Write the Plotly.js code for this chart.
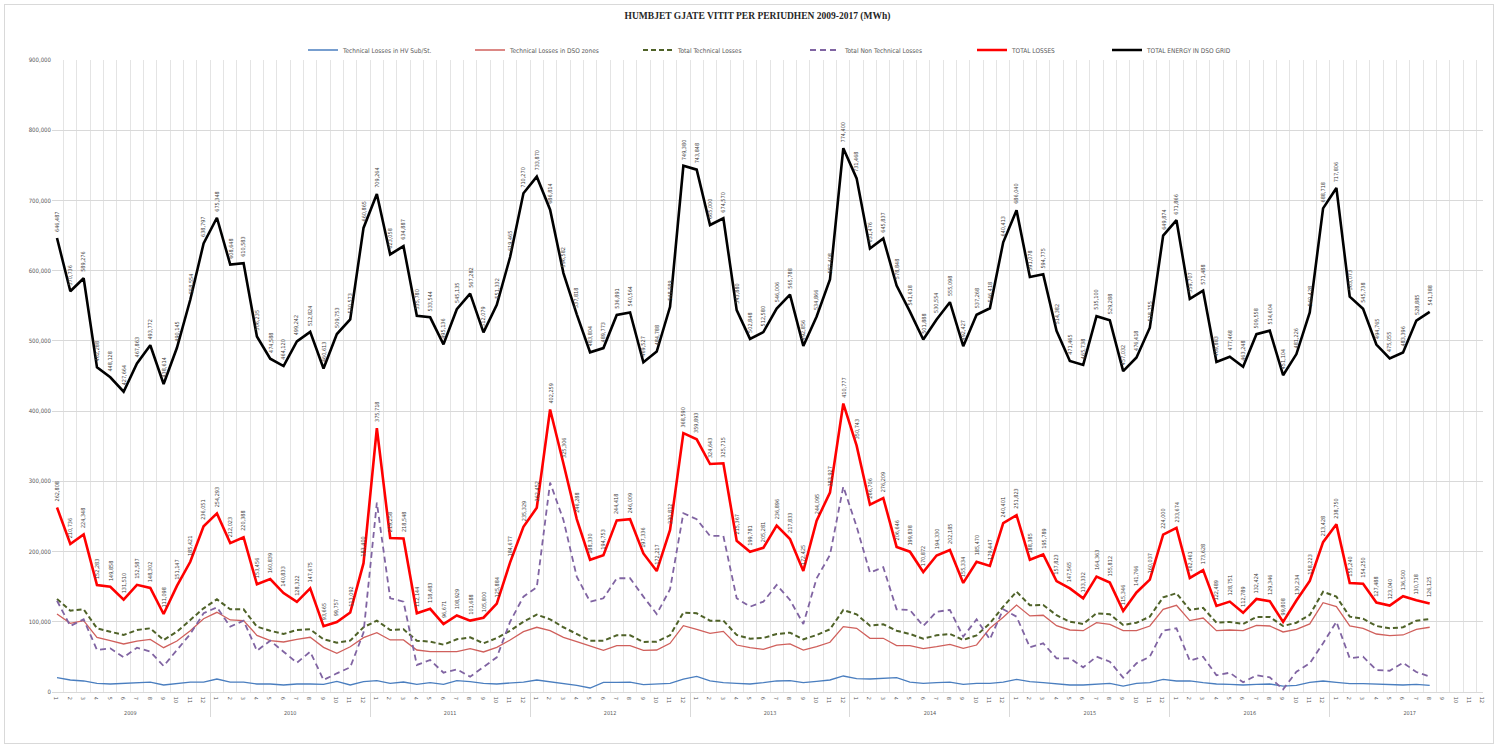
<!DOCTYPE html>
<html><head><meta charset="utf-8">
<script src="https://cdn.plot.ly/plotly-3.0.1.min.js"></script>
<style>
html,body{margin:0;padding:0;background:#fff;}
#chart{width:1506px;height:744px;}
#frame{position:absolute;left:4px;top:4px;width:1488px;height:738px;border:1px solid #d9d9d9;pointer-events:none;}
</style>
</head><body>
<div id="chart"></div><div id="frame"></div>
<script>
const years = ['2009','2010','2011','2012','2013','2014','2015','2016','2017'];
const months = ['1','2','3','4','5','6','7','8','9','10','11','12'];

const seriesNames = ['Technical Losses in HV Sub/St.','Technical Losses in DSO zones','Total Technical Losses','Total Non Technical Losses','TOTAL LOSSES','TOTAL ENERGY IN DSO GRID'];

const hvLosses = [
 20400,17100,15700,12400,11400,12400,13300,14200,10000,12400,14200,14200,
 18500,14200,14200,11400,11400,10000,11400,11400,11000,15200,10000,14700,
 16100,12400,14200,11000,13300,11000,16100,14700,12400,11400,12400,14200,
 17100,14700,12400,9500,5700,13800,13800,14200,10500,11400,12400,18500,
 22300,15700,13300,12400,11400,13300,15700,16100,13300,15200,17100,22800,
 19000,18500,19900,20400,14200,12400,13300,14200,11000,12400,12400,14200,
 18000,14700,13300,11400,10000,10000,11400,12400,8500,12400,13300,18000,
 15700,15700,13300,11400,11000,10000,11000,11400,8500,9500,13800,15700,
 13800,11800,11800,11000,10000,10000,11000,9500];

const dsoLosses = [
 111100,97800,101600,77900,73100,68400,72600,75000,63100,72600,87300,104400,
 113500,102600,101600,80700,73100,71200,75000,77900,63600,55100,64500,77400,
 84500,74100,74100,59800,57400,57400,57400,61700,57000,63600,74100,85900,
 92200,87300,77900,71700,66000,59400,66000,66000,59400,59800,69300,94400,
 89300,83600,86400,66900,63100,60800,66900,68400,59800,64500,70800,93000,
 90700,76500,76500,66000,66000,61700,64500,67900,62200,66900,90700,106400,
 123900,108300,109300,94400,88300,87300,98700,96400,87300,87300,94000,117800,
 123500,101600,105400,87300,88300,87300,95000,94000,85500,89300,96900,127200,
 121500,94000,90700,82600,80200,81200,89300,92200];

const totalTechnical = [
 132500,115800,117800,90700,85900,81200,88300,90700,74100,85900,102600,119200,
 132000,117800,117800,93000,87300,82600,88300,89300,75000,70200,73100,92200,
 101600,88300,89300,73100,71700,67400,75000,77900,69300,76900,87300,100100,
 110100,103500,92200,82600,73100,73100,80700,80700,71200,71700,80700,113000,
 112100,101600,101600,81200,75900,76900,82600,84500,75000,81200,89300,116800,
 110600,94400,96400,87300,82600,75900,80700,82600,74100,80700,97800,121500,
 142900,123500,123900,109300,100100,96900,112100,110600,95400,98700,107300,134900,
 140600,116800,119700,98700,99700,96900,106800,106800,94000,98700,109700,142900,
 135800,107300,104400,94000,90700,92200,101600,104000];

const nonTechnical = [
 130000,94000,103500,59800,62200,49400,63100,57400,37000,59800,82600,112100,
 120600,93000,101600,58800,73100,57400,41700,57400,17100,26600,35200,84500,
 269700,133500,128600,38500,45600,27500,32300,21800,36000,49400,100100,135800,
 149100,298200,245000,164200,128600,133500,162000,162000,135800,111100,146300,254600,
 246000,222200,222200,133500,121500,128600,152400,131000,96900,162000,195200,292500,
 235500,170000,177600,117800,116800,94000,114400,116800,78800,103500,75000,117800,
 107300,63600,69300,48000,48000,35200,50300,43200,20400,40900,50300,87300,
 90700,44600,50300,23800,27500,13800,23800,20900,3800,28900,40900,69300,
 100100,48000,50300,31300,30300,41700,28500,21800];

const totalLosses = [
 262808,210736,224348,152283,149858,131510,152587,148302,111098,151147,185421,236051,
 254293,212023,220388,153456,160839,140833,128322,147675,93665,99757,113092,183400,
 375718,219258,218548,112144,118483,96671,108929,101688,105800,125884,184677,235329,
 262452,402259,325306,246288,188330,194753,244418,246009,197336,172217,230812,368590,
 359893,324643,325715,215367,199781,205281,236896,217833,172425,244095,283927,410777,
 350743,266706,276209,206646,199838,170872,194330,202185,155334,185470,179447,240401,
 251823,188385,195789,157823,147565,133332,164363,155812,115346,141766,160037,224000,
 233674,162461,173628,122489,128751,112789,132424,129346,99808,130234,158223,213428,
 238750,155240,154250,127488,123040,136500,130718,126125];

const totalEnergy = [
 646487,570736,589276,462288,448128,427664,467863,493772,438614,490145,558554,638797,
 675348,608648,610583,506235,474588,464120,499242,512824,460613,509753,530573,660865,
 709264,623058,634887,535780,533544,495136,545135,567282,512079,551332,619465,710270,
 733870,686814,596582,537818,483804,489773,536891,540564,469527,484788,548589,749380,
 743848,665000,674570,543880,502848,512580,546006,565788,492856,534866,587408,774400,
 731468,631476,645837,578848,541618,501888,530554,555098,492427,537268,546418,640413,
 686040,591078,594775,514382,471465,465738,535100,529288,457032,476418,518755,649874,
 671866,559707,571488,469883,477468,463248,509558,514604,451104,481226,540428,688718,
 717806,563073,545738,494765,475055,483396,528885,541388];

// build multicategory x
const xYear = [], xMonth = [];
years.forEach(y => months.forEach(m => { xYear.push(y); xMonth.push(m); }));
const N = xYear.length;
const pad = a => a.concat(new Array(N - a.length).fill(null));

const FONT = 'Liberation Sans Narrow, DejaVu Sans Condensed, Arial Narrow, sans-serif';

const styles = [
  {color:'#4a7ebf', width:1.3, dash:'solid'},
  {color:'#d0605c', width:1.3, dash:'solid'},
  {color:'#4f6228', width:2, dash:'5px,3px'},
  {color:'#8064a2', width:1.8, dash:'6px,4px'},
  {color:'#ff0000', width:2.6, dash:'solid'},
  {color:'#000000', width:2.6, dash:'solid'}
];
const allSeries = [hvLosses, dsoLosses, totalTechnical, nonTechnical, totalLosses, totalEnergy];
const legendNames = ['legend','legend2','legend3','legend4','legend5','legend6'];
const legendTextX = [343, 510, 678, 845, 1012, 1147];

const traces = allSeries.map((s, i) => ({
  type: 'scatter', mode: 'lines',
  x: [xYear, xMonth], y: pad(s),
  name: seriesNames[i],
  legend: legendNames[i],
  line: {color: styles[i].color, width: styles[i].width, dash: styles[i].dash},
  hoverinfo: 'y'
}));

const L = 52, R = 23, T = 60, B = 52;
const plotW = 1506 - L - R, plotH = 744 - T - B;

const annotations = [];
[totalEnergy, totalLosses].forEach(s => {
  s.forEach((v, i) => {
    annotations.push({
      x: i, y: v, xref: 'x', yref: 'y',
      text: v.toLocaleString('en-US'),
      showarrow: false, textangle: -90,
      xanchor: 'center', yanchor: 'bottom', yshift: 4,
      font: {family: FONT, size: 5.5, color: '#404040'}
    });
  });
});

const layout = {
  width: 1506, height: 744,
  paper_bgcolor: '#ffffff', plot_bgcolor: '#ffffff',
  margin: {l: L, r: R, t: T, b: B, pad: 0},
  title: {text: 'HUMBJET GJATE VITIT PER PERIUDHEN 2009-2017 (MWh)',
          font: {family: 'Liberation Serif, Times New Roman, serif', size: 9.5, color: '#262626', weight: 'bold'},
          x: 0.503, xref: 'container', y: 1 - 16/744, yref: 'container', yanchor: 'middle', xanchor: 'center'},
  showlegend: true,
  xaxis: {
    type: 'multicategory', tickson: 'boundaries',
    showgrid: true, gridcolor: '#e4e4e4', gridwidth: 1,
    showdividers: true, dividercolor: '#d9d9d9', dividerwidth: 1,
    showline: true, linecolor: '#d9d9d9', linewidth: 1,
    ticks: '', tickfont: {family: FONT, size: 5.5, color: '#595959'},
    zeroline: false
  },
  yaxis: {
    range: [0, 900000], dtick: 100000, tickformat: ',d',
    showgrid: true, gridcolor: '#d9d9d9', gridwidth: 1,
    zeroline: false, showline: false, ticks: '',
    tickfont: {family: FONT, size: 6, color: '#595959'}
  },
  annotations: annotations,
  font: {family: FONT}
};

legendNames.forEach((ln, i) => {
  layout[ln] = {
    x: (legendTextX[i] - 40 - L) / plotW, xanchor: 'left',
    y: (744 - B - 50) / plotH, yanchor: 'middle',
    orientation: 'h', bgcolor: 'rgba(0,0,0,0)', borderwidth: 0,
    font: {family: FONT, size: 6.5, color: '#595959'},
    itemwidth: 30
  };
});

Plotly.newPlot('chart', traces, layout, {displayModeBar: false, responsive: false});
</script>
</body></html>
